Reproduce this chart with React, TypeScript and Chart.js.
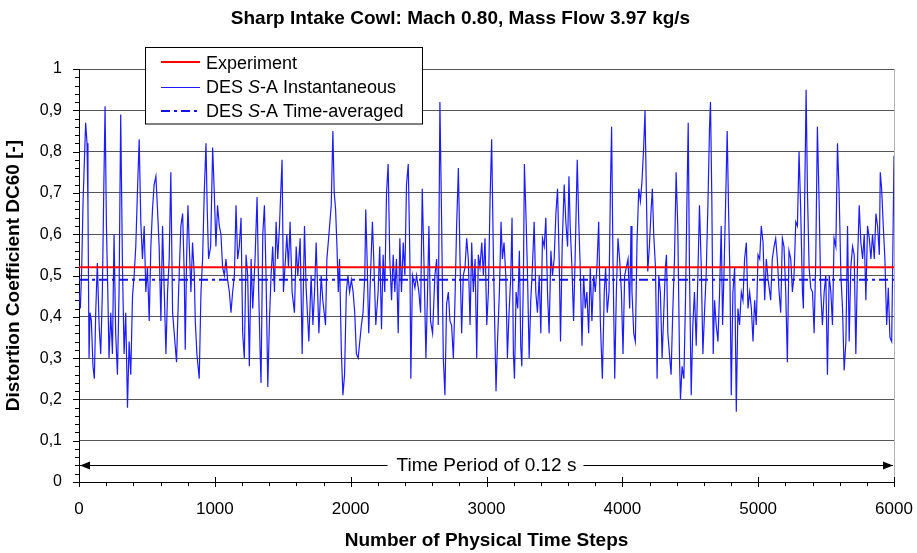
import React, { useEffect, useRef } from 'react';
import { Chart, registerables } from 'chart.js';

Chart.register(...registerables);

// ---------- text ----------
const chartTitle = 'Sharp Intake Cowl: Mach 0.80, Mass Flow 3.97 kg/s';
const xAxisTitle = 'Number of Physical Time Steps';
const yAxisTitle = 'Distortion Coefficient DC60 [-]';
const seriesLabels = ['Experiment', 'DES S-A Instantaneous', 'DES S-A Time-averaged'];
const periodLabel = 'Time Period of 0.12 s';

// ---------- axes ----------
const xRange = [0, 6000];
const yRange = [0, 1];
const xMajorStep = 1000;
const xMinorStep = 200;
const yMajorStep = 0.1;
const yMinorStep = 0.02;

// ---------- reference values ----------
const experimentValue = 0.52;
const timeAveragedValue = 0.49;
const periodArrowValue = 0.04;
const periodLabelCenterStep = 3000;

// ---------- DES S-A instantaneous DC60, [time step, DC60] ----------
const dc60Steps0to1000: [number, number][] = [
  [0, .46], [10, .42], [20, .52], [30, .68], [40, .78], [49, .87], [59, .82], [66, .67], [74, .30], [81, .41],
  [91, .39], [103, .28], [113, .25], [123, .41], [135, .53], [148, .38], [160, .31], [172, .46], [182, .70], [192, .91],
  [202, .62], [212, .46], [221, .30], [234, .41], [246, .31], [258, .60], [270, .36], [283, .26], [295, .46], [307, .89],
  [320, .52], [332, .31], [344, .41], [357, .18], [369, .34], [381, .26], [394, .45], [406, .50], [418, .57], [430, .70],
  [443, .83], [455, .63], [467, .54], [480, .62], [492, .46], [504, .52], [517, .39], [529, .57], [541, .66], [553, .72],
  [566, .74], [578, .66], [590, .57], [603, .39], [615, .62], [627, .47], [640, .31], [652, .46], [664, .54], [676, .75],
  [689, .41], [701, .36], [718, .29], [733, .46], [750, .62], [763, .65], [775, .50], [782, .32], [792, .54], [802, .67],
  [812, .57], [824, .46], [836, .58], [849, .50], [856, .39], [868, .31], [885, .25], [898, .46], [910, .54], [922, .70],
  [935, .82], [944, .66], [954, .54], [969, .57], [984, .81], [996, .70],
];
const dc60Steps1000to2000: [number, number][] = [
  [1008, .57], [1020, .67], [1033, .62], [1045, .60], [1057, .52], [1070, .50], [1082, .54], [1094, .49], [1107, .46], [1119, .41],
  [1131, .46], [1144, .50], [1156, .67], [1168, .54], [1180, .57], [1193, .64], [1205, .36], [1217, .30], [1230, .55], [1242, .50],
  [1254, .28], [1267, .54], [1279, .42], [1296, .54], [1311, .69], [1323, .46], [1333, .32], [1340, .24], [1353, .60], [1365, .67],
  [1377, .50], [1390, .23], [1402, .39], [1414, .50], [1426, .57], [1439, .46], [1451, .63], [1463, .54], [1476, .62], [1485, .70],
  [1495, .78], [1505, .46], [1520, .54], [1530, .60], [1542, .52], [1554, .63], [1569, .46], [1586, .41], [1599, .57], [1611, .50],
  [1628, .59], [1643, .31], [1660, .62], [1672, .47], [1692, .34], [1709, .50], [1722, .38], [1734, .46], [1746, .58], [1766, .36],
  [1783, .50], [1795, .44], [1815, .38], [1825, .54], [1840, .60], [1857, .67], [1869, .85], [1879, .70], [1889, .66], [1899, .57],
  [1909, .46], [1918, .54], [1931, .32], [1943, .21], [1955, .26], [1968, .46], [1980, .50], [1992, .46],
];
const dc60Steps2000to3000: [number, number][] = [
  [2005, .49], [2018, .46], [2030, .41], [2042, .31], [2055, .30], [2067, .34], [2079, .38], [2091, .41], [2104, .50], [2111, .66],
  [2121, .54], [2133, .36], [2146, .50], [2160, .63], [2170, .54], [2185, .38], [2202, .46], [2214, .57], [2227, .37], [2239, .55],
  [2251, .46], [2264, .70], [2276, .77], [2288, .54], [2301, .44], [2313, .55], [2325, .46], [2337, .54], [2350, .36], [2362, .59],
  [2374, .46], [2387, .58], [2399, .50], [2411, .72], [2424, .77], [2436, .54], [2443, .25], [2455, .50], [2473, .47], [2485, .50],
  [2502, .46], [2515, .41], [2527, .71], [2539, .54], [2554, .30], [2566, .46], [2576, .62], [2588, .39], [2603, .36], [2620, .50],
  [2633, .54], [2645, .38], [2657, .92], [2670, .62], [2682, .30], [2694, .21], [2706, .43], [2719, .46], [2731, .39], [2743, .38],
  [2756, .30], [2768, .44], [2780, .62], [2793, .76], [2805, .54], [2817, .36], [2829, .50], [2842, .52], [2854, .59], [2866, .54],
  [2879, .38], [2891, .58], [2903, .46], [2916, .54], [2928, .30], [2940, .55], [2952, .52], [2965, .58], [2977, .50], [2989, .59],
  [3002, .38], [3014, .46],
];
const dc60Steps3000to4000: [number, number][] = [
  [3026, .68], [3038, .83], [3051, .54], [3063, .34], [3070, .22], [3080, .33], [3095, .46], [3107, .63], [3117, .54], [3129, .58],
  [3142, .50], [3154, .30], [3166, .41], [3179, .50], [3188, .64], [3198, .31], [3206, .25], [3218, .46], [3230, .42], [3242, .56],
  [3252, .33], [3260, .28], [3272, .50], [3279, .77], [3292, .63], [3302, .50], [3314, .30], [3326, .44], [3338, .52], [3351, .63],
  [3363, .46], [3375, .41], [3388, .50], [3400, .36], [3412, .59], [3425, .57], [3437, .64], [3449, .46], [3461, .36], [3474, .56],
  [3486, .50], [3498, .54], [3511, .65], [3523, .71], [3535, .54], [3545, .34], [3557, .57], [3572, .72], [3584, .63], [3597, .57],
  [3607, .74], [3616, .62], [3629, .52], [3641, .39], [3653, .55], [3668, .78], [3680, .62], [3690, .52], [3703, .33], [3715, .50],
  [3727, .42], [3739, .46], [3752, .36], [3764, .52], [3776, .39], [3789, .50], [3801, .46], [3813, .52], [3826, .63], [3838, .39],
  [3853, .25], [3867, .46], [3877, .52], [3889, .41], [3902, .46], [3912, .70], [3921, .86], [3931, .54], [3944, .25], [3956, .46],
  [3968, .59], [3980, .54], [3993, .46],
];
const dc60Steps4000to5000: [number, number][] = [
  [4005, .31], [4017, .50], [4030, .52], [4042, .54], [4054, .42], [4064, .62], [4071, .46], [4084, .36], [4096, .34], [4108, .58],
  [4121, .71], [4133, .68], [4145, .73], [4157, .81], [4167, .90], [4177, .70], [4187, .51], [4199, .57], [4212, .66], [4221, .71],
  [4231, .60], [4244, .52], [4256, .25], [4268, .50], [4280, .46], [4293, .30], [4305, .41], [4317, .52], [4325, .55], [4335, .36],
  [4347, .31], [4359, .26], [4371, .41], [4384, .54], [4396, .75], [4408, .62], [4421, .30], [4428, .20], [4440, .28], [4453, .25],
  [4465, .44], [4477, .71], [4485, .87], [4494, .52], [4507, .21], [4519, .38], [4531, .46], [4544, .33], [4556, .50], [4568, .67],
  [4581, .52], [4593, .31], [4605, .41], [4617, .50], [4630, .67], [4642, .86], [4649, .92], [4659, .68], [4669, .31], [4679, .44],
  [4691, .38], [4704, .34], [4716, .46], [4728, .62], [4738, .38], [4748, .50], [4760, .67], [4772, .85], [4782, .66], [4792, .50],
  [4802, .21], [4814, .46], [4827, .52], [4839, .17], [4851, .42], [4863, .38], [4876, .46], [4888, .44], [4900, .54], [4913, .58],
  [4925, .42], [4937, .46], [4950, .42], [4962, .34], [4974, .44], [4986, .38], [4999, .55],
];
const dc60Steps5000to6000: [number, number][] = [
  [5011, .54], [5023, .62], [5036, .58], [5048, .44], [5060, .54], [5073, .49], [5085, .46], [5092, .44], [5104, .54], [5117, .57],
  [5129, .59], [5141, .54], [5154, .46], [5166, .41], [5178, .59], [5190, .57], [5203, .46], [5215, .29], [5227, .56], [5240, .54],
  [5252, .46], [5264, .50], [5277, .63], [5289, .62], [5301, .80], [5313, .66], [5326, .46], [5333, .42], [5343, .70], [5353, .95],
  [5363, .70], [5375, .52], [5387, .47], [5400, .46], [5412, .36], [5424, .54], [5436, .86], [5449, .67], [5461, .46], [5473, .38],
  [5486, .46], [5498, .50], [5510, .26], [5523, .50], [5535, .46], [5547, .38], [5559, .59], [5572, .57], [5584, .82], [5596, .70],
  [5609, .50], [5621, .42], [5633, .27], [5646, .34], [5658, .62], [5670, .34], [5682, .52], [5695, .57], [5707, .55], [5719, .31],
  [5732, .54], [5744, .67], [5756, .58], [5769, .54], [5781, .60], [5793, .44], [5805, .62], [5818, .59], [5830, .54], [5842, .60],
  [5855, .54], [5867, .65], [5879, .62], [5892, .55], [5899, .75], [5909, .71], [5921, .62], [5933, .54], [5946, .38], [5958, .47],
  [5970, .35], [5983, .34], [5992, .57], [6000, .79],
];

// ---------- styles ----------
const FONT = "'Liberation Sans', Arial, Helvetica, sans-serif";
const RED = '#ff0000';
const BLUE_INST = '#1c1cff';
const BLUE_AVG = '#1414e6';
const AVG_DASH = [9, 4, 3, 4];
const GRID = '#555555';

const instantaneous = [
  ...dc60Steps0to1000,
  ...dc60Steps1000to2000,
  ...dc60Steps2000to3000,
  ...dc60Steps3000to4000,
  ...dc60Steps4000to5000,
  ...dc60Steps5000to6000,
].map(([x, y]) => ({ x, y }));

const fmtY = (v: number) => {
  if (Math.abs(v) < 1e-9) return '0';
  if (Math.abs(v - 1) < 1e-9) return '1';
  return v.toFixed(1).replace('.', ',');
};

const decorPlugin = {
  id: 'decor',
  afterDraw(chart: any) {
    const { ctx, chartArea: ca, scales } = chart;
    const x = scales.x;
    const y = scales.y;
    ctx.save();

    // right frame edge
    ctx.strokeStyle = '#b4b4b4';
    ctx.lineWidth = 1;
    ctx.beginPath();
    ctx.moveTo(ca.right + 0.5, ca.top);
    ctx.lineTo(ca.right + 0.5, ca.bottom);
    ctx.stroke();

    // tick marks
    ctx.strokeStyle = '#000';
    ctx.lineWidth = 1;
    ctx.beginPath();
    const nx = Math.round((xRange[1] - xRange[0]) / xMinorStep);
    const perMajorX = Math.round(xMajorStep / xMinorStep);
    for (let i = 0; i <= nx; i++) {
      const v = xRange[0] + i * xMinorStep;
      const px = Math.round(x.getPixelForValue(v)) + 0.5;
      const major = i % perMajorX === 0;
      ctx.moveTo(px, ca.bottom + (major ? -5 : 0));
      ctx.lineTo(px, ca.bottom + (major ? 5 : 4));
    }
    const ny = Math.round((yRange[1] - yRange[0]) / yMinorStep);
    const perMajorY = Math.round(yMajorStep / yMinorStep);
    for (let i = 0; i <= ny; i++) {
      const v = yRange[0] + i * yMinorStep;
      const py = Math.round(y.getPixelForValue(v)) + 0.5;
      const major = i % perMajorY === 0;
      ctx.moveTo(ca.left - (major ? 6 : 4), py);
      ctx.lineTo(ca.left, py);
    }
    ctx.stroke();

    // period double arrow
    const ay = Math.round(y.getPixelForValue(periodArrowValue)) + 0.5;
    const ax0 = x.getPixelForValue(xRange[0]) + 1;
    const ax1 = x.getPixelForValue(xRange[1]) - 1;
    ctx.beginPath();
    ctx.moveTo(ax0, ay);
    ctx.lineTo(ax1, ay);
    ctx.stroke();
    ctx.fillStyle = '#000';
    ctx.beginPath();
    ctx.moveTo(ax0, ay);
    ctx.lineTo(ax0 + 10, ay - 4);
    ctx.lineTo(ax0 + 10, ay + 4);
    ctx.closePath();
    ctx.fill();
    ctx.beginPath();
    ctx.moveTo(ax1, ay);
    ctx.lineTo(ax1 - 10, ay - 4);
    ctx.lineTo(ax1 - 10, ay + 4);
    ctx.closePath();
    ctx.fill();
    ctx.font = `19px ${FONT}`;
    const tw = ctx.measureText(periodLabel).width;
    const tcx = x.getPixelForValue(periodLabelCenterStep);
    ctx.fillStyle = '#fff';
    ctx.fillRect(tcx - tw / 2 - 9, ay - 9, tw + 16, 18);
    ctx.fillStyle = '#000';
    ctx.textAlign = 'center';
    ctx.textBaseline = 'alphabetic';
    ctx.fillText(periodLabel, tcx, ay + 5);

    // legend
    const lx = 145.5, ltop = 47.5, lw = 277, lh = 76.5;
    ctx.fillStyle = '#fff';
    ctx.fillRect(lx, ltop, lw, lh);
    ctx.strokeStyle = '#000';
    ctx.lineWidth = 1;
    ctx.strokeRect(lx, ltop, lw, lh);
    const baselines = [68.5, 93.3, 117.3];
    const datasets = chart.data.datasets;
    const legendOrder = [0, 1, 2];
    legendOrder.forEach((di, row) => {
      const ds = datasets[di];
      const base = baselines[row];
      const ly = Math.round(base - 6.8) + (ds.borderWidth % 2 ? 0.5 : 0);
      ctx.save();
      ctx.strokeStyle = ds.borderColor;
      ctx.lineWidth = ds.borderWidth;
      ctx.setLineDash(ds.borderDash || []);
      ctx.beginPath();
      ctx.moveTo(161, ly);
      ctx.lineTo(200, ly);
      ctx.stroke();
      ctx.restore();
      // label, with italic "S" in "S-A"
      const label: string = ds.label;
      ctx.fillStyle = '#000';
      ctx.textAlign = 'left';
      ctx.textBaseline = 'alphabetic';
      let tx = 206;
      const m = label.match(/^(DES )S(-A.*)$/);
      if (m) {
        ctx.font = `18px ${FONT}`;
        ctx.fillText(m[1], tx, base);
        tx += ctx.measureText(m[1]).width;
        ctx.font = `italic 18px ${FONT}`;
        ctx.fillText('S', tx, base);
        tx += ctx.measureText('S').width;
        ctx.font = `18px ${FONT}`;
        ctx.fillText(m[2], tx, base);
      } else {
        ctx.font = `18px ${FONT}`;
        ctx.fillText(label, tx, base);
      }
    });

    // titles
    ctx.fillStyle = '#000';
    ctx.textAlign = 'center';
    ctx.textBaseline = 'alphabetic';
    ctx.font = `bold 19px ${FONT}`;
    ctx.fillText(chartTitle, 460.5, 23.5);
    ctx.font = `bold 19px ${FONT}`;
    ctx.fillText(xAxisTitle, (ca.left + ca.right) / 2, 545.5);
    ctx.save();
    ctx.translate(18.5, (ca.top + ca.bottom) / 2);
    ctx.rotate(-Math.PI / 2);
    ctx.fillText(yAxisTitle, 0, 0);
    ctx.restore();

    ctx.restore();
  },
};

export default function App() {
  const canvasRef = useRef<HTMLCanvasElement | null>(null);

  useEffect(() => {
    const canvas = canvasRef.current;
    if (!canvas) return;
    const chart = new Chart(canvas, {
      type: 'line',
      data: {
        datasets: [
          {
            label: seriesLabels[0],
            data: [
              { x: xRange[0], y: experimentValue },
              { x: xRange[1], y: experimentValue },
            ],
            borderColor: RED,
            borderWidth: 2,
            pointRadius: 0,
            order: 1,
          },
          {
            label: seriesLabels[1],
            data: instantaneous,
            borderColor: BLUE_INST,
            borderWidth: 1.2,
            pointRadius: 0,
            order: 3,
          },
          {
            label: seriesLabels[2],
            data: [
              { x: xRange[0], y: timeAveragedValue },
              { x: xRange[1], y: timeAveragedValue },
            ],
            borderColor: BLUE_AVG,
            borderWidth: 2,
            borderDash: AVG_DASH,
            pointRadius: 0,
            order: 2,
          },
        ],
      },
      options: {
        animation: false,
        responsive: false,
        maintainAspectRatio: false,
        events: [],
        layout: { padding: { top: 69, right: 23, left: 0, bottom: 0 } },
        plugins: {
          legend: { display: false },
          title: { display: false },
          tooltip: { enabled: false },
        },
        elements: { line: { tension: 0 }, point: { radius: 0 } },
        scales: {
          x: {
            type: 'linear',
            min: xRange[0],
            max: xRange[1],
            afterFit: (s: any) => {
              s.height = 71;
              s.paddingLeft = 0;
              s.paddingRight = 0;
            },
            ticks: {
              stepSize: xMajorStep,
              color: '#000',
              font: { family: FONT, size: 17 },
              padding: 17,
              maxRotation: 0,
              autoSkip: false,
              callback: (v: any) => String(Math.round(Number(v))),
            },
            grid: { display: false, drawTicks: false, tickLength: 0 },
            border: { display: true, color: '#000', width: 1 },
          },
          y: {
            type: 'linear',
            min: yRange[0],
            max: yRange[1],
            afterFit: (s: any) => {
              s.width = 79;
              s.paddingTop = 0;
              s.paddingBottom = 0;
            },
            ticks: {
              stepSize: yMajorStep,
              color: '#000',
              font: { family: FONT, size: 16 },
              padding: 17,
              callback: (v: any) => fmtY(Number(v)),
            },
            grid: { color: GRID, lineWidth: 1, drawTicks: false, tickLength: 0 },
            border: { display: true, color: '#000', width: 1 },
          },
        },
      } as any,
      plugins: [decorPlugin],
    });
    return () => chart.destroy();
  }, []);

  return (
    <div style={{ position: 'absolute', left: 0, top: 0, width: 917, height: 553, background: '#fff' }}>
      <canvas ref={canvasRef} width={917} height={553} style={{ display: 'block', width: 917, height: 553 }} />
    </div>
  );
}
